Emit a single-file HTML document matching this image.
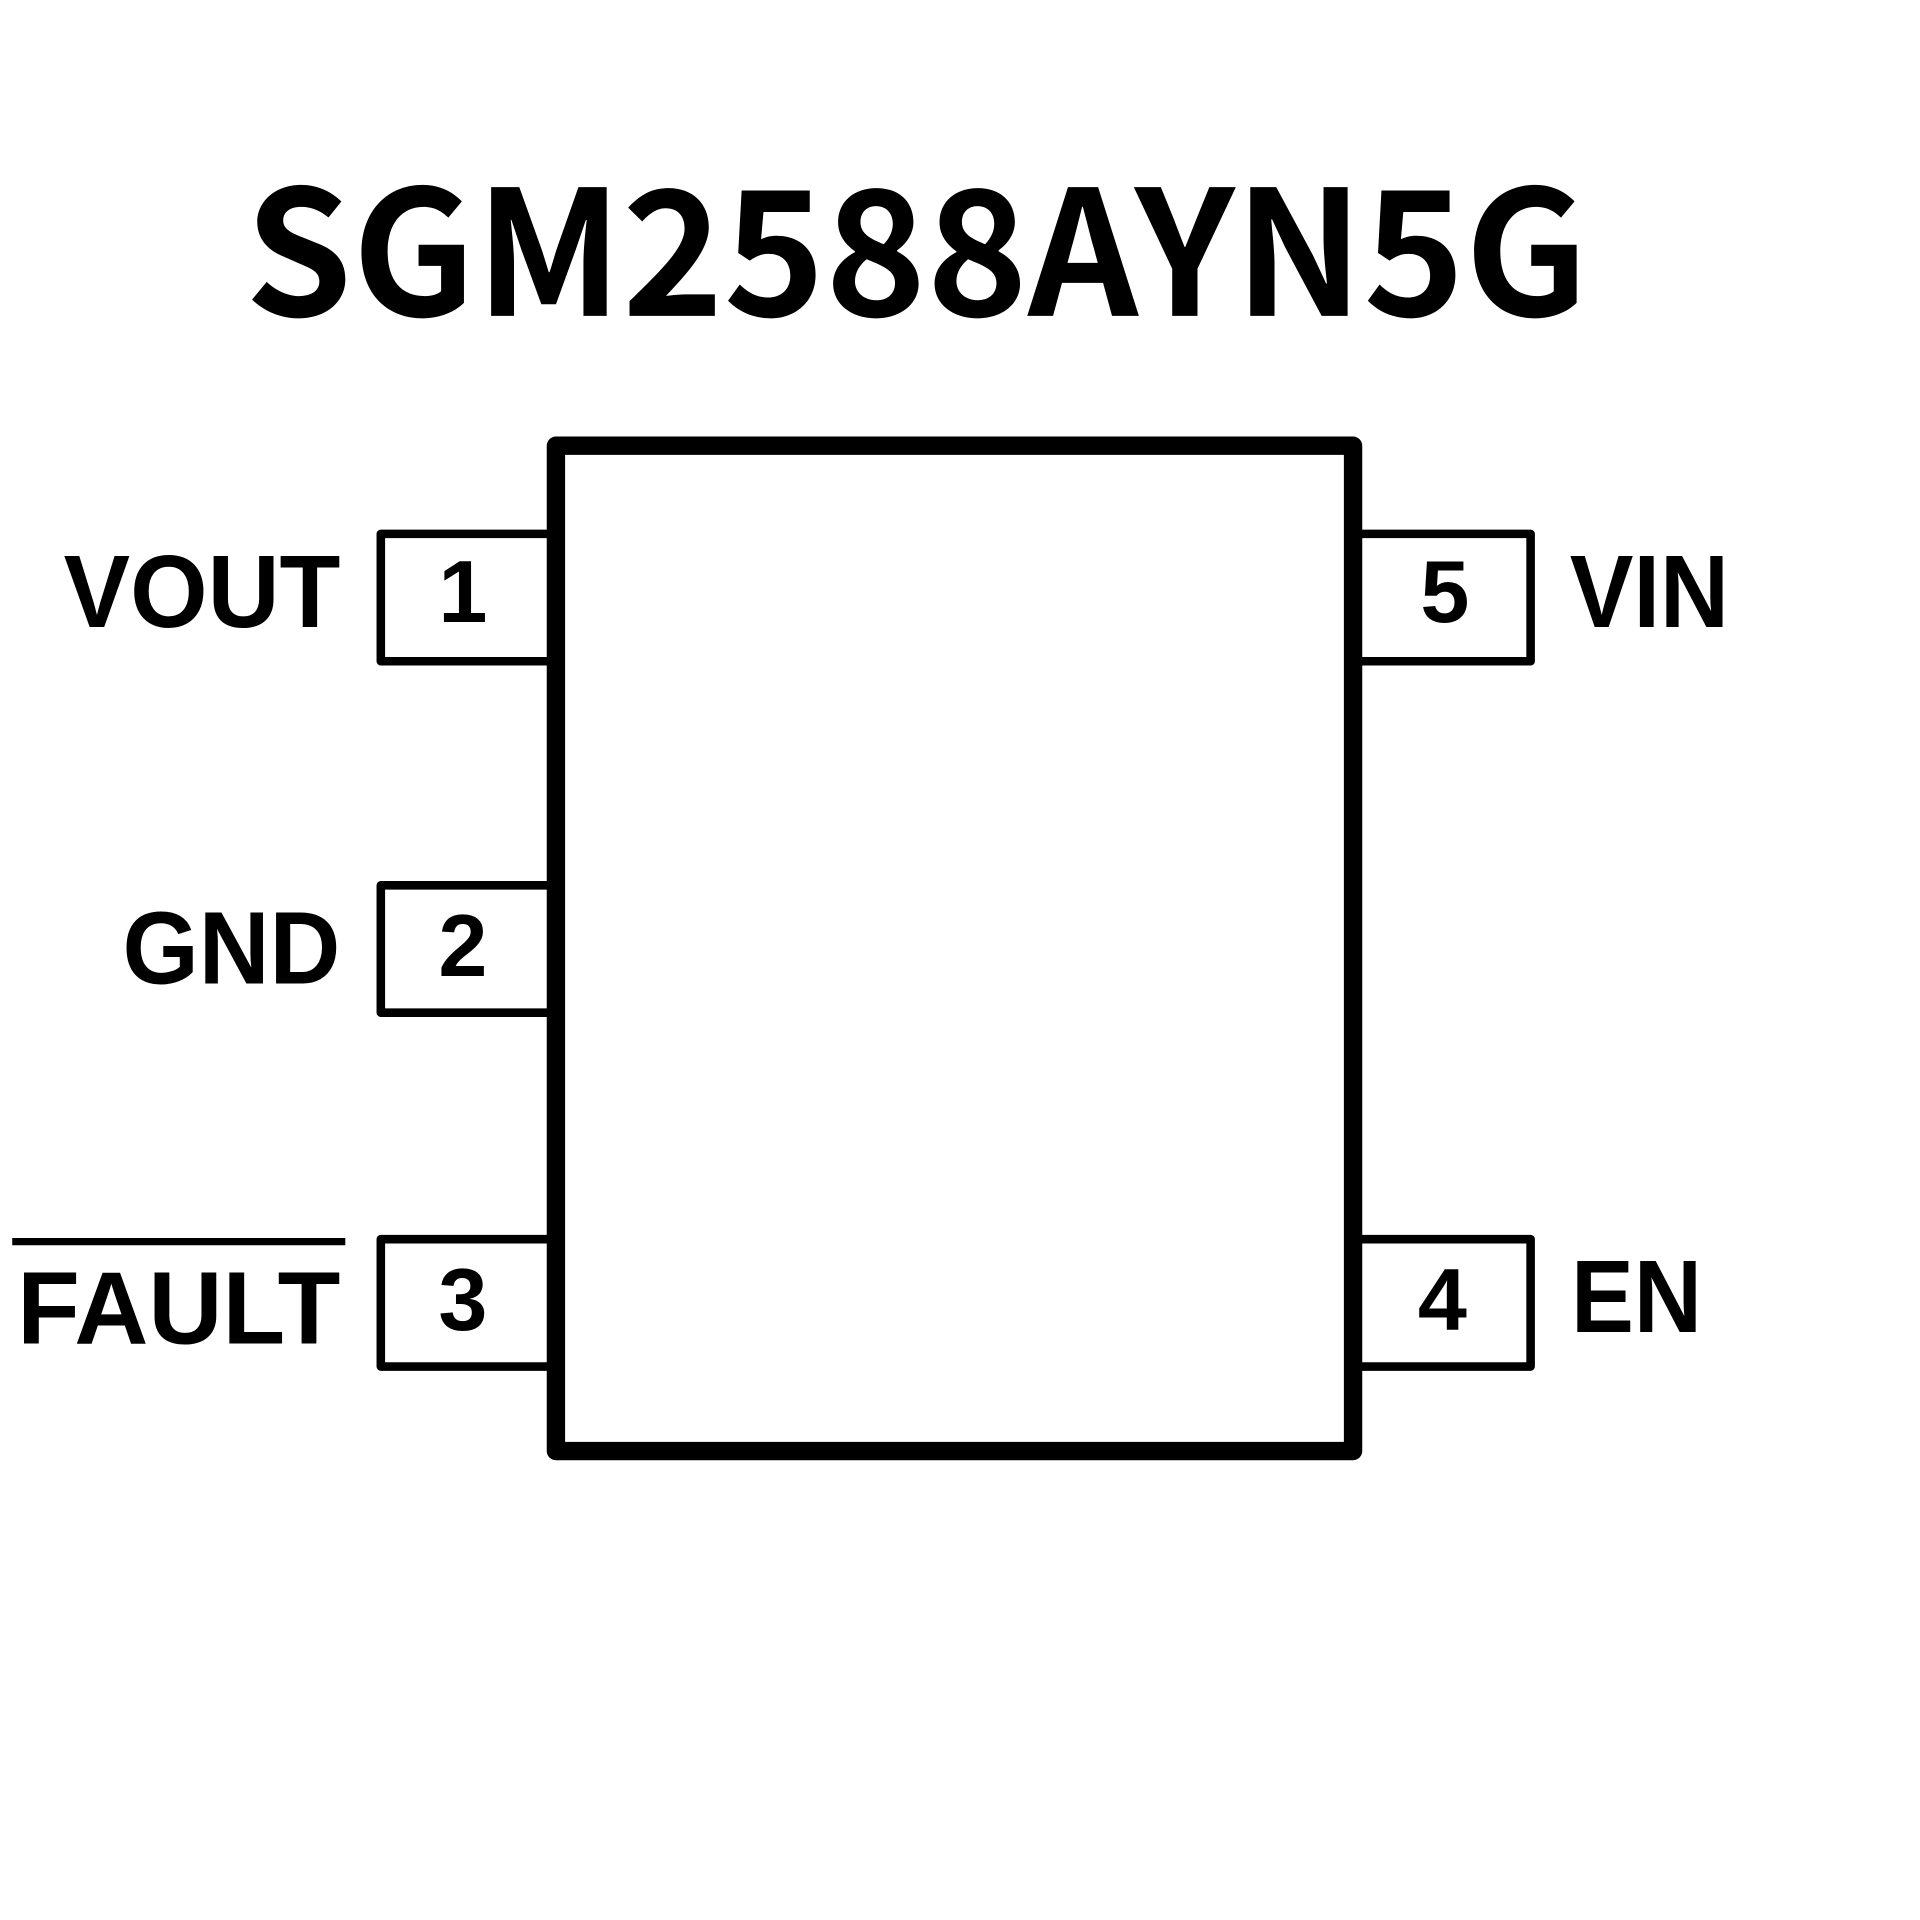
<!DOCTYPE html>
<html><head><meta charset="utf-8"><style>html,body{margin:0;padding:0;background:#fff;}svg{display:block}</style></head>
<body>
<svg width="1920" height="1920" viewBox="0 0 1568 1568" xmlns="http://www.w3.org/2000/svg">
<rect width="1568" height="1568" fill="#fff"/>
<text x="200" y="258" font-family="'Noto Sans CJK SC','Liberation Sans',sans-serif" font-weight="bold" font-size="142" textLength="1097" lengthAdjust="spacingAndGlyphs" fill="#000">SGM2588AYN5G</text>
<g fill="none" stroke="#000" stroke-linejoin="round">
<rect x="454" y="364" width="651" height="821" stroke-width="15"/>
<g stroke-width="7">
<polyline points="447,436 311,436 311,540 447,540"/>
<polyline points="447,723 311,723 311,827 447,827"/>
<polyline points="447,1012 311,1012 311,1116 447,1116"/>
<polyline points="1112,436 1250,436 1250,540 1112,540"/>
<polyline points="1112,1012 1250,1012 1250,1116 1112,1116"/>
</g>
<line x1="10" y1="1014" x2="282" y2="1014" stroke-width="6"/>
</g>
<g font-family="'Liberation Sans',Arial,sans-serif" font-weight="bold" fill="#000">
<g font-size="84">
<text x="278" y="512" text-anchor="end" textLength="226" lengthAdjust="spacingAndGlyphs">VOUT</text>
<text x="278" y="803" text-anchor="end" textLength="178" lengthAdjust="spacingAndGlyphs">GND</text>
<text x="14" y="1097" textLength="264" lengthAdjust="spacingAndGlyphs">FAULT</text>
<text x="1282" y="512" textLength="130" lengthAdjust="spacingAndGlyphs">VIN</text>
<text x="1283" y="1088" textLength="107" lengthAdjust="spacingAndGlyphs">EN</text>
</g>
<g font-size="72" text-anchor="middle">
<text x="378" y="508">1</text>
<text x="378" y="797">2</text>
<text x="378" y="1086">3</text>
<text x="1180" y="508">5</text>
<text x="1178" y="1086">4</text>
</g>
</g>
</svg>
</body></html>
